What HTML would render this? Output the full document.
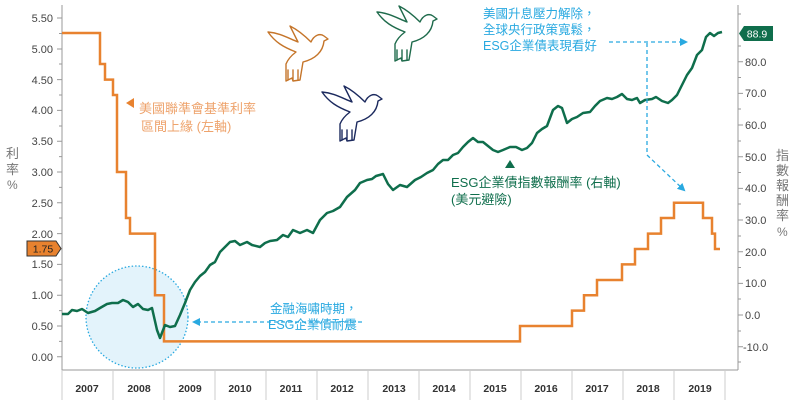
<!DOCTYPE html>
<html><head><meta charset="utf-8"><style>
html,body{margin:0;padding:0;background:#fff;}
svg{display:block;font-family:"Liberation Sans","Noto Sans CJK TC",sans-serif;}
</style></head><body>
<svg width="792" height="400" viewBox="0 0 792 400" xmlns="http://www.w3.org/2000/svg">
<defs>
<marker id="ab" markerWidth="8" markerHeight="8" refX="6" refY="4" orient="auto" markerUnits="userSpaceOnUse"><path d="M0,0 L8,4 L0,8 z" fill="#29a9e0"/></marker>
</defs>
<!-- circle -->
<circle cx="137" cy="317" r="51" fill="#e3f3fb" stroke="#29a9e0" stroke-width="1.3" stroke-dasharray="1.5,2"/>
<!-- axes -->
<g stroke="#999" stroke-width="1" fill="none">
<line x1="62" y1="5" x2="62" y2="370"/>
<line x1="738" y1="5" x2="738" y2="370"/>
<line x1="62" y1="370" x2="738" y2="370"/>
</g>
<g font-size="11" fill="#444" text-anchor="end">
<text x="53" y="22">5.50</text><text x="53" y="53">5.00</text><text x="53" y="84">4.50</text><text x="53" y="114">4.00</text><text x="53" y="145">3.50</text><text x="53" y="176">3.00</text><text x="53" y="207">2.50</text><text x="53" y="238">2.00</text><text x="53" y="268">1.50</text><text x="53" y="299">1.00</text><text x="53" y="330">0.50</text><text x="53" y="361">0.00</text>
</g>
<g stroke="#999" stroke-width="1">
<path d="M57,18H62M57,49H62M57,79.6H62M57,110.4H62M57,141.2H62M57,172H62M57,202.8H62M57,233.6H62M57,264.4H62M57,295.2H62M57,326H62M57,356.7H62"/>
<path d="M59,33.5H62M59,64H62M59,95H62M59,126H62M59,156.6H62M59,187.4H62M59,218H62M59,249H62M59,280H62M59,310.6H62M59,341.4H62"/>
<path d="M738,61.7H743M738,93.4H743M738,125H743M738,156.7H743M738,188.4H743M738,220H743M738,251.7H743M738,283.4H743M738,315H743M738,346.7H743"/>
<path d="M738,14H741M738,46H741M738,77.5H741M738,109H741M738,141H741M738,172.5H741M738,204H741M738,236H741M738,267.5H741M738,299H741M738,331H741M738,362H741"/>
</g>
<g font-size="11" fill="#444">
<text x="745" y="66">80.0</text><text x="745" y="97">70.0</text><text x="745" y="129">60.0</text><text x="745" y="161">50.0</text><text x="745" y="192">40.0</text><text x="745" y="224">30.0</text><text x="745" y="256">20.0</text><text x="745" y="287">10.0</text><text x="745" y="319">0.0</text><text x="743" y="351">-10.0</text>
</g>
<!-- x axis -->
<g stroke="#ccc" stroke-width="1">
<path d="M62,370V400M113,370V400M164,370V400M215,370V400M266,370V400M317,370V400M368,370V400M419,370V400M470,370V400M521,370V400M572,370V400M623,370V400M674,370V400M725,370V400"/>
</g>
<g font-size="10.5" fill="#333" text-anchor="middle" font-weight="bold">
<text x="87" y="392">2007</text><text x="139" y="392">2008</text><text x="190" y="392">2009</text><text x="240" y="392">2010</text><text x="291" y="392">2011</text><text x="342" y="392">2012</text><text x="394" y="392">2013</text><text x="444" y="392">2014</text><text x="495" y="392">2015</text><text x="546" y="392">2016</text><text x="597" y="392">2017</text><text x="648" y="392">2018</text><text x="700" y="392">2019</text>
</g>
<!-- axis titles -->
<g font-size="13" fill="#777">
<text x="6" y="158">利</text><text x="6" y="174">率</text><text x="7" y="189" font-size="12">%</text>
<text x="776" y="160">指</text><text x="776" y="175">數</text><text x="776" y="190">報</text><text x="776" y="205">酬</text><text x="776" y="220">率</text><text x="777" y="236" font-size="12">%</text>
</g>
<!-- fed rate -->
<path fill="none" stroke="#e8822f" stroke-width="2.5" d="M62,33H100V64H105V79.6H113V95H117V172H126V218H130V233.6H155V295.2H164V341.4H520V326H572V310.6H584V295.2H597V280H622V264.4H635V249H648V233.6H661V218H674V202.8H703V218H712V233.6H715V249H720"/>
<!-- ESG -->
<path fill="none" stroke="#0f6e4c" stroke-width="2.5" stroke-linejoin="round" d="M62,314L68,314L72,310L77,311L82,309L88,313L95,311L100,308L107,304L112,303L118,303L123,300L128,302L133,307L138,304L143,309L148,310L152,308L157,330L160,338L165,325L170,327L175,326L180,315L185,303L190,290L195,282L200,276L205,272L210,265L215,262L220,252L225,247L230,242L235,241L240,245L247,242L252,245L260,247L265,243L270,241L277,240L283,235L288,237L293,230L300,233L307,230L313,233L320,220L327,213L333,211L340,207L347,197L355,190L360,183L367,180L372,179L376,176L383,174L388,184L393,190L400,185L407,187L415,180L421,177L427,173L433,170L438,164L443,160L448,160L453,155L458,153L463,147L468,142L473,138L478,142L483,142L488,146L493,150L498,152L503,150L510,147L516,147L522,150L527,148L532,143L537,133L542,129L547,126L553,110L558,106L562,108L567,123L572,119L577,117L583,113L590,112L595,106L600,101L607,98L612,99L617,97L622,94L627,99L632,100L637,98L640,103L645,100L652,99L656,97L662,101L668,103L672,100L677,95L682,85L687,75L692,68L697,55L702,50L706,37L710,33L714,36L718,33L722,32"/>
<!-- value tags -->
<path d="M27,241H56L61,248.5L56,256H27Z" fill="#e8822f" stroke="#333" stroke-width="1"/>
<text x="43" y="252.5" font-size="10.5" fill="#222" text-anchor="middle">1.75</text>
<path d="M744,26H773V41H744L739,33.5Z" fill="#0f6e4c"/>
<text x="757" y="37.5" font-size="10.5" fill="#fff" text-anchor="middle">88.9</text>
<!-- annotations -->
<path d="M126,103L134,98V108Z" fill="#e8822f"/>
<g font-size="13" fill="#eea36c">
<text x="139" y="113">美國聯準會基準利率</text>
<text x="141" y="131">區間上緣 (左軸)</text>
</g>
<path d="M505,168L510,160L515,168Z" fill="#0f6e4c"/>
<g font-size="13" fill="#0f6e4c">
<text x="451" y="187">ESG企業債指數報酬率 (右軸)</text>
<text x="451" y="204">(美元避險)</text>
</g>
<g font-size="12.5" fill="#29a9e0">
<text x="483" y="18">美國升息壓力解除，</text>
<text x="483" y="34">全球央行政策寬鬆，</text>
<text x="483" y="50">ESG企業債表現看好</text>
<text x="270" y="313">金融海嘯時期，</text>
<text x="268" y="329">ESG企業債耐震</text>
</g>
<g stroke="#29a9e0" stroke-width="1.3" stroke-dasharray="4,3" fill="none">
<path d="M609,42H686" marker-end="url(#ab)"/>
<path d="M647,43V155L684,190" marker-end="url(#ab)"/>
<path d="M362,322H194" marker-end="url(#ab)"/>
</g>
<!-- birds -->
<g fill="none" stroke-width="1.4" stroke-linejoin="round" stroke-linecap="round">
<g stroke="#c5752a" transform="translate(268,24)">
<path d="M0,8 C12,9 20,14 30,18 L22,2 C30,6 37,12 43,18 C46,11 52,9 56,12 L60,15 L56,17 C55,28 47,35 35,38 L32,56 L25,57 L24,54 L18,57 L18,40 C20,35 24,31 28,28 C15,23 7,18 0,8 Z"/>
<path d="M20,56V46M25,56V46M30,56V46"/>
</g>
<g stroke="#1f6b4c" transform="translate(377,4)">
<path d="M0,8 C12,9 20,14 30,18 L22,2 C30,6 37,12 43,18 C46,11 52,9 56,12 L60,15 L56,17 C55,28 47,35 35,38 L32,56 L25,57 L24,54 L18,57 L18,40 C20,35 24,31 28,28 C15,23 7,18 0,8 Z"/>
<path d="M20,56V46M25,56V46M30,56V46"/>
</g>
<g stroke="#1c2a5e" transform="translate(322,84)">
<path d="M0,8 C12,9 20,14 30,18 L22,2 C30,6 37,12 43,18 C46,11 52,9 56,12 L60,15 L56,17 C55,28 47,35 35,38 L32,56 L25,57 L24,54 L18,57 L18,40 C20,35 24,31 28,28 C15,23 7,18 0,8 Z"/>
<path d="M20,56V46M25,56V46M30,56V46"/>
</g>
</g>
</svg>
</body></html>
